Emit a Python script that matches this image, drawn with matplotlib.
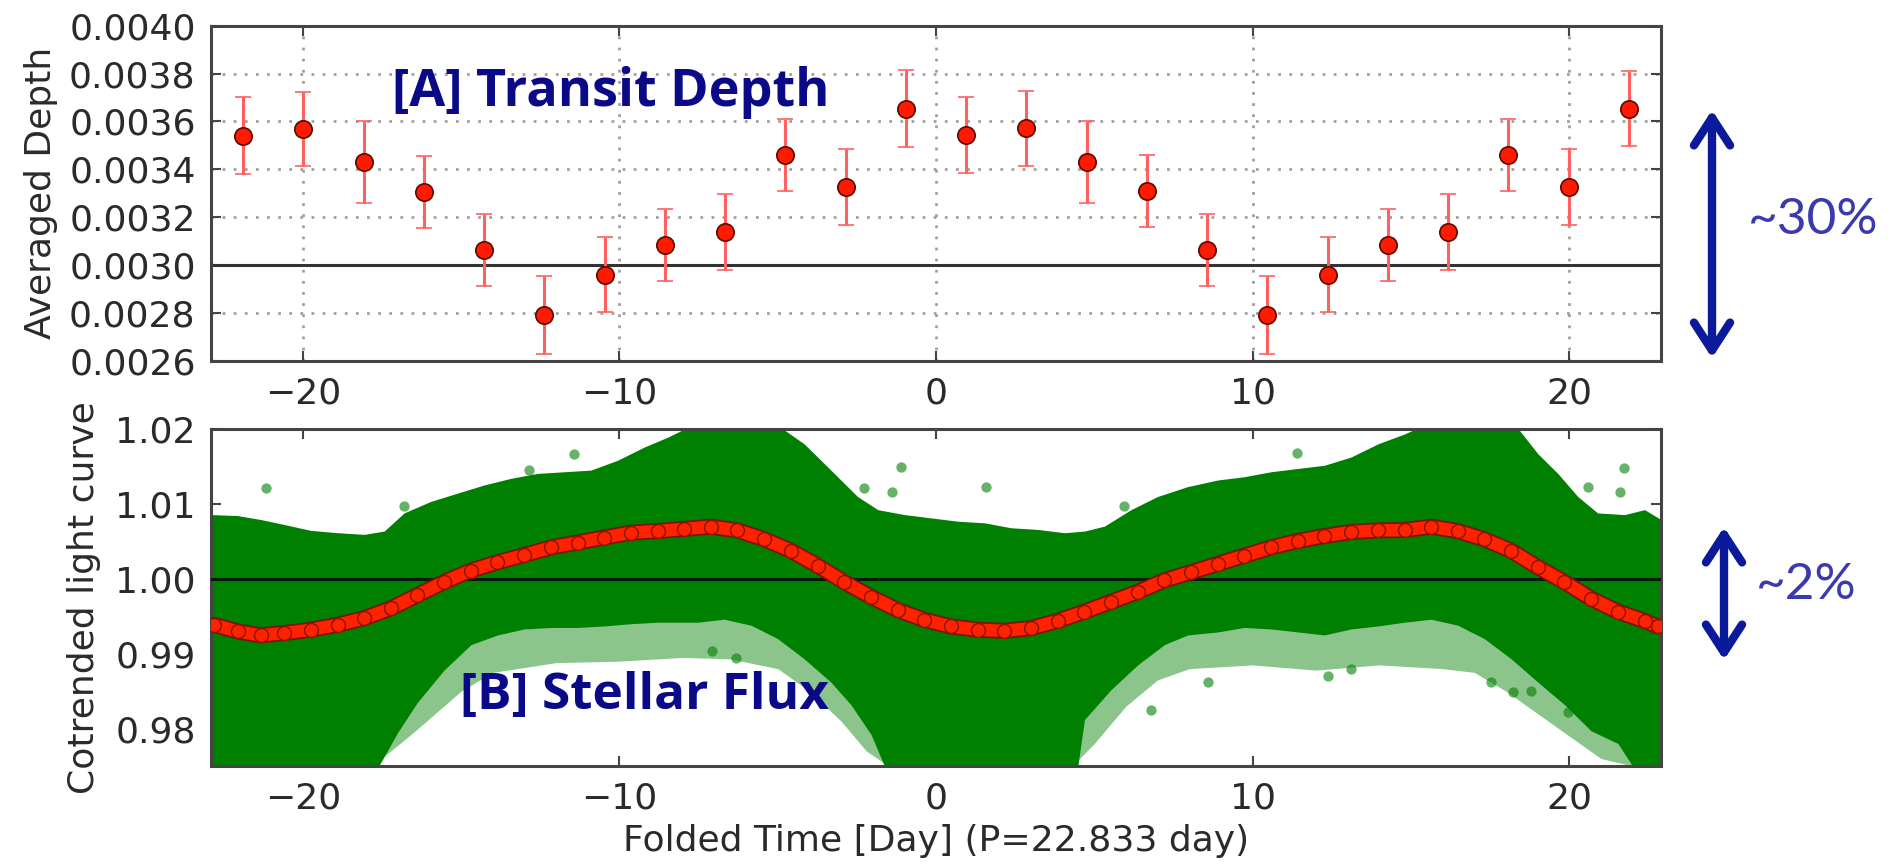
import matplotlib
matplotlib.use("Agg")
import matplotlib.pyplot as plt
from matplotlib.ticker import FormatStrFormatter
import matplotlib.patheffects as pe

# ---------------- data: panel A (transit depth) ----------------
depth_x = [-21.88, -19.98, -18.07, -16.17, -14.27, -12.37, -10.46, -8.56, -6.66, -4.76, -2.85, -0.95,
           0.95, 2.85, 4.76, 6.66, 8.56, 10.46, 12.37, 14.27, 16.17, 18.07, 19.98, 21.88]
depth_y = [0.003541, 0.003569, 0.003430, 0.003306, 0.003065, 0.002794, 0.002961, 0.003084, 0.003139,
           0.003459, 0.003327, 0.003654,
           0.003543, 0.003571, 0.003430, 0.003309, 0.003065, 0.002794, 0.002961, 0.003084, 0.003139,
           0.003459, 0.003327, 0.003654]
depth_err = [0.00016, 0.000155, 0.00017, 0.00015, 0.00015, 0.000163, 0.000155, 0.00015, 0.00016,
             0.00015, 0.00016, 0.00016,
             0.00016, 0.000155, 0.00017, 0.00015, 0.00015, 0.000163, 0.000155, 0.00015, 0.00016,
             0.00015, 0.00016, 0.000158]

# ---------------- data: panel B (stellar flux) ----------------
# binned light curve (red)
bin_x = [-22.80, -22.06, -21.33, -20.59, -19.75, -18.90, -18.06, -17.22, -16.38, -15.54, -14.69,
         -13.85, -13.01, -12.16, -11.32, -10.48, -9.64, -8.79, -7.95, -7.11, -6.27, -5.42, -4.58,
         -3.74, -2.90, -2.05, -1.21, -0.37, 0.47, 1.32, 2.16, 3.00, 3.84, 4.69, 5.53, 6.37, 7.21,
         8.06, 8.90, 9.74, 10.58, 11.43, 12.27, 13.11, 13.96, 14.80, 15.64, 16.48, 17.32, 18.17,
         19.01, 19.85, 20.69, 21.54, 22.38, 22.80]
bin_y = [0.99385, 0.99297, 0.99244, 0.99275, 0.99319, 0.99385, 0.99473, 0.99604, 0.99780, 0.99956,
         1.00110, 1.00220, 1.00316, 1.00418, 1.00484, 1.00550, 1.00615, 1.00637, 1.00665, 1.00695,
         1.00646, 1.00527, 1.00374, 1.00176, 0.99956, 0.99758, 0.99582, 0.99451, 0.99363, 0.99319,
         0.99305, 0.99340, 0.99437, 0.99560, 0.99692, 0.99824, 0.99978, 1.00088, 1.00198, 1.00308,
         1.00418, 1.00505, 1.00571, 1.00624, 1.00646, 1.00650, 1.00695, 1.00637, 1.00527, 1.00374,
         1.00154, 0.99956, 0.99736, 0.99560, 0.99437, 0.99363]

# dense cloud of unbinned points: upper / lower edges of the solid core
cloud_up_x = [-22.9, -22.06, -21.33, -20.59, -19.75, -18.9, -18.06, -17.43, -16.8, -15.96, -15.12,
              -14.27, -13.43, -12.59, -11.74, -10.9, -10.06, -9.22, -8.48, -7.7, -5.0, -4.16, -3.74,
              -3.11, -2.48, -1.84, -1.0, -0.16, 0.68, 1.53, 2.37, 3.21, 4.06, 4.69, 5.32, 6.16, 7.0,
              7.95, 8.90, 9.74, 10.58, 11.43, 12.27, 13.11, 13.96, 14.80, 15.4, 18.3, 19.01, 19.64,
              20.27, 20.9, 21.75, 22.38, 22.9]
cloud_up_y = [1.00857, 1.00844, 1.00791, 1.00725, 1.00646, 1.00615, 1.00593, 1.00637, 1.00879,
              1.01033, 1.01143, 1.01253, 1.01341, 1.01407, 1.01429, 1.01451, 1.01582, 1.01758,
              1.0189, 1.0205, 1.0205, 1.018, 1.01626, 1.01363, 1.01099, 1.00923, 1.00857, 1.00813,
              1.00769, 1.00747, 1.00681, 1.00659, 1.00615, 1.00637, 1.00703, 1.00923, 1.01099,
              1.01231, 1.01319, 1.01363, 1.01429, 1.01473, 1.01516, 1.01626, 1.01802, 1.01934,
              1.0205, 1.0205, 1.0167, 1.01407, 1.01099, 1.00879, 1.00857, 1.00923, 1.00791]
cloud_lo_x = [-22.9, -17.6, -17.0, -16.38, -15.54, -14.69, -13.85, -13.01, -12.16, -11.32, -10.48,
              -9.64, -8.79, -7.53, -6.69, -5.84, -5.0, -4.16, -3.32, -2.69, -2.05, -1.63, 4.48, 4.69,
              5.53, 6.37, 7.21, 7.95, 8.9, 9.74, 10.58, 11.43, 12.27, 13.11, 13.96, 14.8, 15.64,
              16.48, 17.32, 18.17, 19.01, 19.85, 20.69, 21.54, 22.0, 22.9]
cloud_lo_y = [0.975, 0.975, 0.9795, 0.9835, 0.9878, 0.9912, 0.9925, 0.9933, 0.9935, 0.9935,
              0.9937, 0.9940, 0.9942, 0.9942, 0.9946, 0.9938, 0.9920, 0.9893, 0.9862,
              0.9832, 0.9792, 0.975, 0.975, 0.9812, 0.9852, 0.9885, 0.9912, 0.9925, 0.9929,
              0.9935, 0.9933, 0.9929, 0.9925, 0.9933, 0.9937, 0.9942, 0.9946, 0.9938,
              0.9920, 0.9893, 0.9862, 0.9832, 0.9797, 0.9780, 0.975, 0.975]
# sparser spray of points below the core
spray_x = [-22.9, -17.8, -16.5, -15.0, -14.0, -12.0, -10.0, -8.0, -6.5, -5.0, -4.0, -3.0, -2.2, -1.5,
           4.3, 5.0, 6.0, 7.0, 8.0, 10.0, 12.0, 14.0, 16.0, 17.0, 18.0, 19.0, 20.0, 21.0, 22.0, 22.9]
spray_y = [0.975, 0.975, 0.9795, 0.985, 0.9875, 0.9888, 0.989, 0.9895, 0.9893, 0.988, 0.985, 0.981,
           0.977, 0.975, 0.975, 0.978, 0.983, 0.9865, 0.988, 0.9885, 0.9878, 0.9885, 0.988, 0.9875,
           0.985, 0.982, 0.979, 0.976, 0.975, 0.975]
# isolated outliers
out_x = [-21.17, -11.43, -16.8, -12.85, -1.11, 1.58, -1.38, -2.28, 5.95, 11.41, 21.73, 21.62, 20.59,
         8.58, 17.54, 18.22, 18.8, 19.96, 13.12, 12.39, -7.06, -6.32, 6.79]
out_y = [1.01209, 1.0167, 1.00967, 1.0145, 1.01495, 1.01222, 1.01165, 1.0121, 1.00967, 1.01679,
         1.01481, 1.01165, 1.01231, 0.98615, 0.98615, 0.98484, 0.98505, 0.9822, 0.98791, 0.98703,
         0.99033, 0.98945, 0.98242]

xlim = (-22.9, 22.9)
x_ticks = [-20, -10, 0, 10, 20]
depth_ticks = [0.0026, 0.0028, 0.0030, 0.0032, 0.0034, 0.0036, 0.0038, 0.0040]
flux_ticks = [0.98, 0.99, 1.00, 1.01, 1.02]

# ---------------- figure ----------------
TXT = '#2a2a2a'
FS = 26
plt.rcParams['font.family'] = ['DejaVu Sans']

fig = plt.figure(figsize=(18.92, 8.67), dpi=100)
ax1 = fig.add_axes([0.1115, 0.5836, 0.7664, 0.3868])
ax2 = fig.add_axes([0.1115, 0.1165, 0.7664, 0.3887])

for ax in (ax1, ax2):
    ax.set_xlim(*xlim)
    ax.set_xticks(x_ticks)
    ax.tick_params(direction='in', length=7, width=1.5, top=True, right=True,
                   labelsize=FS, labelcolor=TXT, colors='#444444', pad=11)
    ax.tick_params(axis='x', labelcolor=TXT)
    for s in ax.spines.values():
        s.set_linewidth(2.2)
        s.set_edgecolor('#444444')
    ax.set_xticklabels([('\u2212%d' % -t) if t < 0 else '%d' % t for t in x_ticks])

# Panel A
ax1.set_ylim(0.0026, 0.0040)
ax1.set_yticks(depth_ticks)
ax1.yaxis.set_major_formatter(FormatStrFormatter('%.4f'))
ax1.grid(True, linestyle=(0, (1, 3)), linewidth=2, color='#a0a0a0')
ax1.axhline(0.0030, color='#333333', lw=2.2, zorder=2)
ax1.errorbar(depth_x, depth_y, yerr=depth_err, fmt='o', color='#ff1a00', ms=12.5,
             mec='#5a0a00', mew=1.2, ecolor='#ff6060', elinewidth=2.2, capsize=6,
             capthick=2.2, zorder=4)
ax1.set_ylabel('Averaged Depth', fontsize=FS, color=TXT, labelpad=8)
ax1.text(0.125, 0.80, '[A] Transit Depth', transform=ax1.transAxes, ha='left', va='center',
         fontsize=37.5, fontweight='bold', color='#0a0a88', family=['Open Sans', 'DejaVu Sans'])

# Panel B
ax2.set_ylim(0.975, 1.02)
ax2.set_yticks(flux_ticks)
ax2.yaxis.set_major_formatter(FormatStrFormatter('%.2f'))
green = '#008000'
ax2.fill_between(spray_x, spray_y, 1.0, color=green, alpha=0.45, lw=0, zorder=1)
ax2.fill_between(cloud_lo_x, cloud_lo_y, 1.0, color=green, lw=0, zorder=2)
ax2.fill_between(cloud_up_x, 1.0, cloud_up_y, color=green, lw=0, zorder=2)
ax2.scatter(out_x, out_y, s=55, color=green, alpha=0.6, lw=0, zorder=2)
ax2.axhline(1.0, color='#0a1a0a', lw=2.2, zorder=3)
ax2.plot(bin_x, bin_y, '-', color='#ff2200', lw=9, solid_capstyle='round', zorder=4,
         path_effects=[pe.Stroke(linewidth=11.5, foreground='#7a1200'), pe.Normal()])
ax2.plot(bin_x, bin_y, 'o', color='#ff2200', ms=10, mec='#8a1500', mew=1.0, zorder=5)
ax2.set_ylabel('Cotrended light curve', fontsize=FS, color=TXT, labelpad=10)
ax2.set_xlabel('Folded Time [Day] (P=22.833 day)', fontsize=FS, color=TXT, labelpad=6)
ax2.text(0.172, 0.208, '[B] Stellar Flux', transform=ax2.transAxes, ha='left', va='center',
         fontsize=37, fontweight='bold', color='#0a0a88', family=['Open Sans', 'DejaVu Sans'],
         zorder=6)

# right-hand annotations (figure pixel coordinates, origin bottom-left)
arrow_col = '#0a1a9a'
ann_kw = dict(xycoords='figure pixels', textcoords='figure pixels',
              arrowprops=dict(arrowstyle='<->,head_length=1.0,head_width=0.65', lw=6,
                              color=arrow_col, shrinkA=0, shrinkB=0, mutation_scale=20))
fig.add_artist(plt.Annotation('', xy=(1712, 757), xytext=(1712, 509), **ann_kw))
fig.add_artist(plt.Annotation('', xy=(1724, 340), xytext=(1724, 207), **ann_kw))
fig.text(1748 / 1892, 647 / 867, '~30%', ha='left', va='center', fontsize=37, color='#3a3aae',
         family=['Lato', 'DejaVu Sans'])
fig.text(1756 / 1892, 282 / 867, '~2%', ha='left', va='center', fontsize=37, color='#3a3aae',
         family=['Lato', 'DejaVu Sans'])

fig.savefig('out.png', dpi=100)
